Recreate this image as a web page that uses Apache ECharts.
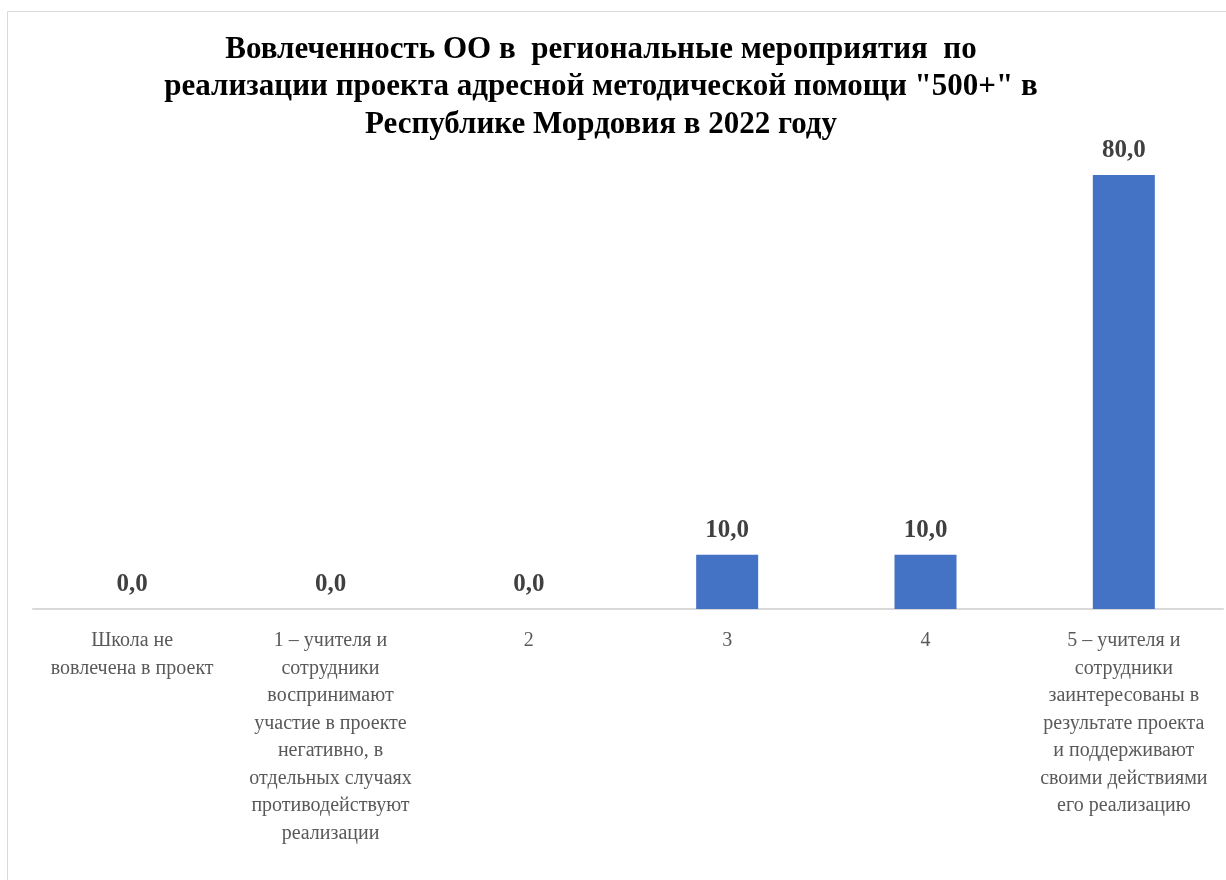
<!DOCTYPE html>
<html>
<head>
<meta charset="utf-8">
<script src="https://cdn.jsdelivr.net/npm/echarts@6/dist/echarts.min.js"></script>
<style>
  html, body { margin: 0; padding: 0; background: #fff; }
  #chart { width: 1226px; height: 880px; }
</style>
</head>
<body>
<div id="chart"></div>
<script>
const titleText = 'Вовлеченность ОО в  региональные мероприятия  по\nреализации проекта адресной методической помощи "500+" в\nРеспублике Мордовия в 2022 году'

const categories = [
  'Школа не\nвовлечена в проект',
  '1 – учителя и\nсотрудники\nвоспринимают\nучастие в проекте\nнегативно, в\nотдельных случаях\nпротиводействуют\nреализации',
  '2',
  '3',
  '4',
  '5 – учителя и\nсотрудники\nзаинтересованы в\nрезультате проекта\nи поддерживают\nсвоими действиями\nего реализацию',
]
const values = [0, 0, 0, 10, 10, 80]

const serif = '"Liberation Serif", "Times New Roman", serif'

const chart = echarts.init(document.getElementById('chart'))
chart.setOption({
  backgroundColor: '#fff',
  animation: false,
  graphic: [
    {
      type: 'rect',
      shape: { x: 7.5, y: 11.5, width: 1400, height: 1000 },
      style: { fill: 'none', stroke: '#d9d9d9', lineWidth: 1 },
      silent: true,
    },
  ],
  title: {
    text: titleText,
    left: 596,
    textAlign: 'center',
    top: 26,
    textStyle: {
      fontFamily: serif,
      fontWeight: 'bold',
      fontSize: 31,
      lineHeight: 37.5,
      color: '#000',
    },
  },
  grid: { left: 33, right: 3, top: 175, bottom: 271 },
  xAxis: {
    type: 'category',
    data: categories,
    axisLine: { lineStyle: { color: '#d9d9d9', width: 2 } },
    axisTick: { show: false },
    axisLabel: {
      interval: 0,
      margin: 18,
      fontFamily: serif,
      fontSize: 20,
      lineHeight: 27.5,
      color: '#595959',
    },
  },
  yAxis: {
    type: 'value',
    min: 0,
    max: 80,
    show: false,
    splitLine: { show: false },
  },
  series: [
    {
      type: 'bar',
      data: values,
      barWidth: 62,
      itemStyle: { color: '#4472c4' },
      label: {
        show: true,
        position: 'top',
        distance: 12,
        formatter: (p) => p.value.toFixed(1).replace('.', ','),
        fontFamily: serif,
        fontWeight: 'bold',
        fontSize: 25,
        color: '#404040',
      },
    },
  ],
})
</script>
</body>
</html>
